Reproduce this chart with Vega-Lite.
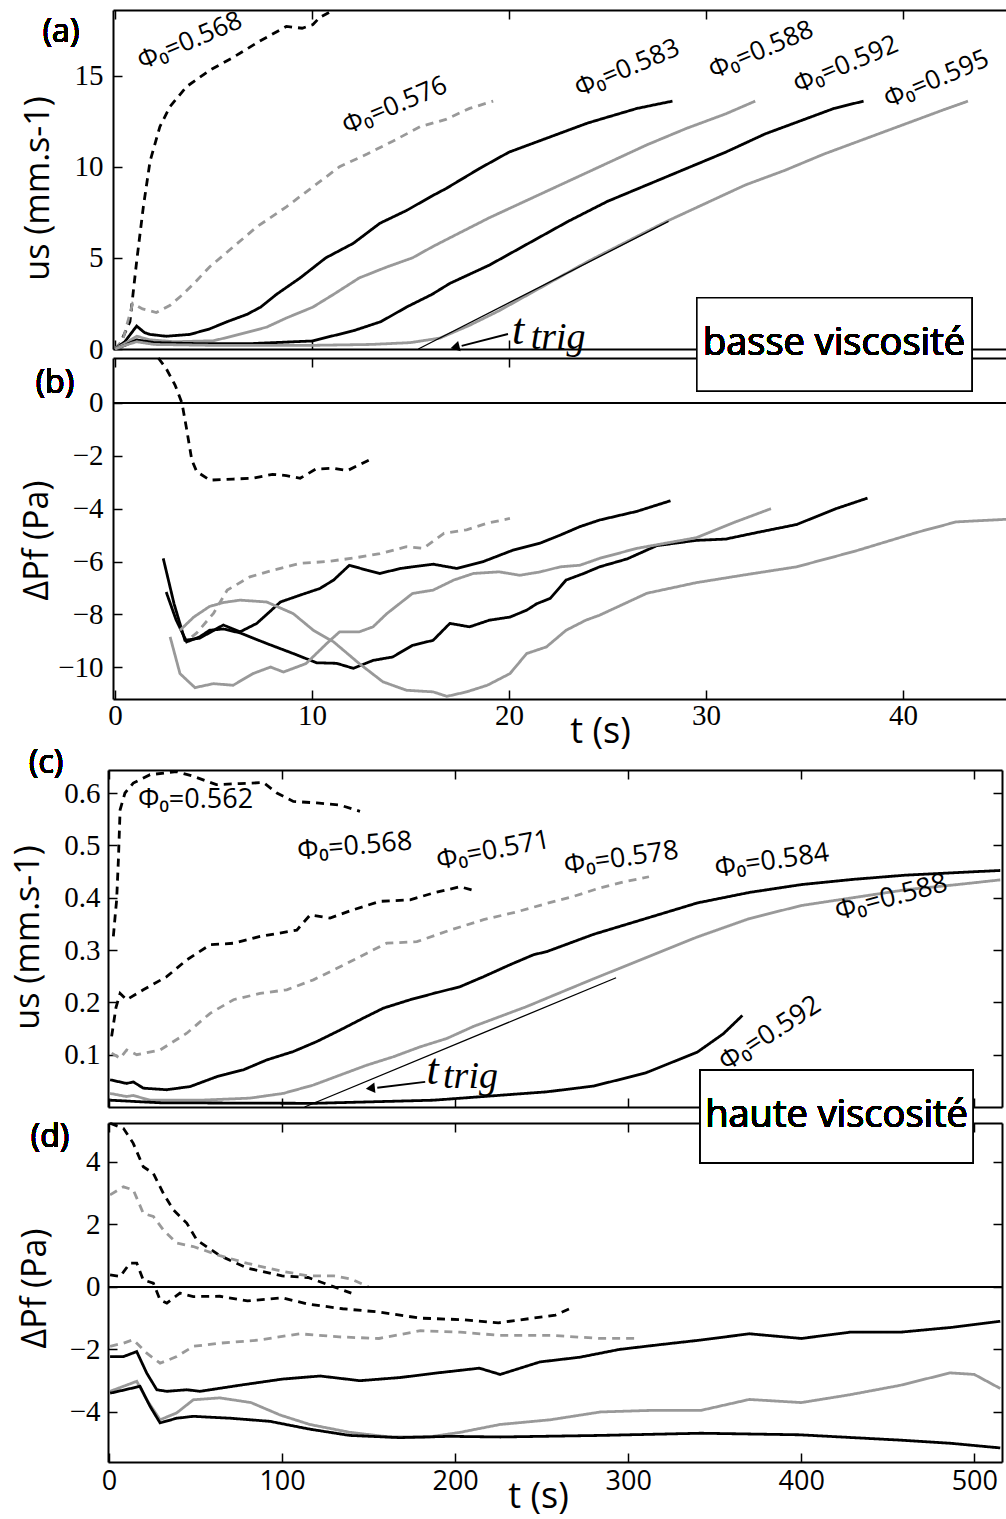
{
"$schema":"https://vega.github.io/schema/vega-lite/v6.json",
"background":"white",
"autosize":"none",
"width":898,"height":1452,
"padding":{"left":108,"top":10,"right":0,"bottom":57},
"config":{
 "view":{"stroke":null},
 "axis":{"grid":false,"domain":true,"domainColor":"black","domainWidth":2,"ticks":true,"tickColor":"black","tickWidth":1.5,"tickSize":-9,"labelColor":"black","labelFont":"Liberation Serif","labelFontSize":29,"labelPadding":17,"labelFlush":false,"labelOverlap":false,"labelBound":false,"titleColor":"black","titleFont":"Open Sans","titleFontSize":34,"titleFontWeight":"normal"},
 "axisX":{"labelPadding":11},
 "text":{"color":"black","font":"Open Sans"},
 "line":{"strokeCap":"butt"}
},
"datasets":{
 "a":[
  {"s":"L568","t":0,"v":0},{"s":"L568","t":0.25,"v":0.27},{"s":"L568","t":0.76,"v":1.5},{"s":"L568","t":1.1,"v":4.8},{"s":"L568","t":1.44,"v":7.8},{"s":"L568","t":1.78,"v":10.3},{"s":"L568","t":2.28,"v":12.2},{"s":"L568","t":2.79,"v":13.3},{"s":"L568","t":3.64,"v":14.4},{"s":"L568","t":4.82,"v":15.3},{"s":"L568","t":6.0,"v":16.0},{"s":"L568","t":7.36,"v":16.9},{"s":"L568","t":8.7,"v":17.7},{"s":"L568","t":9.5,"v":17.6},{"s":"L568","t":10.05,"v":17.8},{"s":"L568","t":10.4,"v":18.2},{"s":"L568","t":11.1,"v":18.6},
  {"s":"L576","t":0,"v":0},{"s":"L576","t":0.4,"v":0.5},{"s":"L576","t":0.9,"v":2.5},{"s":"L576","t":1.4,"v":2.2},{"s":"L576","t":2.1,"v":2.0},{"s":"L576","t":2.8,"v":2.4},{"s":"L576","t":3.45,"v":3.0},{"s":"L576","t":4.1,"v":3.7},{"s":"L576","t":4.8,"v":4.5},{"s":"L576","t":6.0,"v":5.6},{"s":"L576","t":7.2,"v":6.7},{"s":"L576","t":8.7,"v":7.8},{"s":"L576","t":10.05,"v":8.9},{"s":"L576","t":11.4,"v":10.0},{"s":"L576","t":12.8,"v":10.7},{"s":"L576","t":14.1,"v":11.4},{"s":"L576","t":15.5,"v":12.2},{"s":"L576","t":16.8,"v":12.6},{"s":"L576","t":18.0,"v":13.2},{"s":"L576","t":19.2,"v":13.6},
  {"s":"L583","t":0,"v":0},{"s":"L583","t":0.5,"v":0.4},{"s":"L583","t":1.1,"v":1.26},{"s":"L583","t":1.5,"v":0.9},{"s":"L583","t":1.78,"v":0.8},{"s":"L583","t":2.6,"v":0.7},{"s":"L583","t":3.8,"v":0.8},{"s":"L583","t":4.8,"v":1.1},{"s":"L583","t":5.7,"v":1.5},{"s":"L583","t":6.7,"v":1.9},{"s":"L583","t":7.4,"v":2.3},{"s":"L583","t":8.2,"v":3.0},{"s":"L583","t":9.4,"v":3.9},{"s":"L583","t":10.7,"v":5.0},{"s":"L583","t":12.1,"v":5.8},{"s":"L583","t":13.45,"v":6.9},{"s":"L583","t":14.8,"v":7.6},{"s":"L583","t":16.1,"v":8.4},{"s":"L583","t":16.8,"v":8.8},{"s":"L583","t":18.5,"v":9.9},{"s":"L583","t":20,"v":10.8},{"s":"L583","t":22,"v":11.6},{"s":"L583","t":24,"v":12.4},{"s":"L583","t":26.5,"v":13.2},{"s":"L583","t":28.3,"v":13.6},
  {"s":"L588","t":0,"v":0},{"s":"L588","t":0.5,"v":0.3},{"s":"L588","t":1.1,"v":0.7},{"s":"L588","t":1.8,"v":0.5},{"s":"L588","t":3,"v":0.4},{"s":"L588","t":5,"v":0.45},{"s":"L588","t":6.3,"v":0.8},{"s":"L588","t":7.7,"v":1.2},{"s":"L588","t":8.7,"v":1.7},{"s":"L588","t":10.05,"v":2.3},{"s":"L588","t":11.1,"v":3.0},{"s":"L588","t":12.4,"v":3.9},{"s":"L588","t":13.8,"v":4.5},{"s":"L588","t":15.1,"v":5.0},{"s":"L588","t":16.1,"v":5.6},{"s":"L588","t":17.0,"v":6.1},{"s":"L588","t":19,"v":7.2},{"s":"L588","t":21,"v":8.2},{"s":"L588","t":23,"v":9.2},{"s":"L588","t":25,"v":10.2},{"s":"L588","t":27,"v":11.2},{"s":"L588","t":29,"v":12.1},{"s":"L588","t":31,"v":12.9},{"s":"L588","t":32.5,"v":13.6},
  {"s":"L592","t":0,"v":0},{"s":"L592","t":0.5,"v":0.2},{"s":"L592","t":1.1,"v":0.5},{"s":"L592","t":2,"v":0.35},{"s":"L592","t":4,"v":0.3},{"s":"L592","t":7,"v":0.3},{"s":"L592","t":10,"v":0.44},{"s":"L592","t":12.1,"v":1.0},{"s":"L592","t":13.5,"v":1.5},{"s":"L592","t":14.8,"v":2.3},{"s":"L592","t":16.1,"v":3.0},{"s":"L592","t":17,"v":3.6},{"s":"L592","t":19,"v":4.6},{"s":"L592","t":21,"v":5.8},{"s":"L592","t":23,"v":7.0},{"s":"L592","t":25,"v":8.1},{"s":"L592","t":27,"v":9.0},{"s":"L592","t":29,"v":9.9},{"s":"L592","t":31,"v":10.8},{"s":"L592","t":33,"v":11.8},{"s":"L592","t":35,"v":12.6},{"s":"L592","t":36.5,"v":13.2},{"s":"L592","t":38,"v":13.6},
  {"s":"L595","t":0,"v":0},{"s":"L595","t":0.5,"v":0.2},{"s":"L595","t":1.1,"v":0.4},{"s":"L595","t":2,"v":0.25},{"s":"L595","t":5,"v":0.2},{"s":"L595","t":10,"v":0.2},{"s":"L595","t":13,"v":0.25},{"s":"L595","t":15,"v":0.35},{"s":"L595","t":16.5,"v":0.6},{"s":"L595","t":18,"v":1.3},{"s":"L595","t":19.5,"v":2.1},{"s":"L595","t":21,"v":3.0},{"s":"L595","t":22.5,"v":3.9},{"s":"L595","t":24,"v":4.8},{"s":"L595","t":26,"v":5.9},{"s":"L595","t":28,"v":7.0},{"s":"L595","t":30,"v":8.0},{"s":"L595","t":32,"v":9.0},{"s":"L595","t":34,"v":9.8},{"s":"L595","t":36,"v":10.7},{"s":"L595","t":38,"v":11.5},{"s":"L595","t":40,"v":12.3},{"s":"L595","t":42,"v":13.1},{"s":"L595","t":43.3,"v":13.6}
 ],
 "b":[
  {"s":"L568","t":2.2,"v":1.7},{"s":"L568","t":2.6,"v":1.3},{"s":"L568","t":3.05,"v":0.68},{"s":"L568","t":3.4,"v":0},{"s":"L568","t":3.64,"v":-1.0},{"s":"L568","t":3.9,"v":-2.16},{"s":"L568","t":4.15,"v":-2.6},{"s":"L568","t":4.82,"v":-2.92},{"s":"L568","t":6.0,"v":-2.88},{"s":"L568","t":7.0,"v":-2.85},{"s":"L568","t":8.0,"v":-2.7},{"s":"L568","t":8.7,"v":-2.75},{"s":"L568","t":9.4,"v":-2.85},{"s":"L568","t":10.2,"v":-2.5},{"s":"L568","t":11.1,"v":-2.47},{"s":"L568","t":11.8,"v":-2.56},{"s":"L568","t":12.9,"v":-2.16},
  {"s":"L576","t":3.9,"v":-8.85},{"s":"L576","t":4.15,"v":-8.7},{"s":"L576","t":5.0,"v":-7.96},{"s":"L576","t":5.7,"v":-7.08},{"s":"L576","t":6.85,"v":-6.58},{"s":"L576","t":8.0,"v":-6.33},{"s":"L576","t":9.4,"v":-6.07},{"s":"L576","t":10.75,"v":-6.0},{"s":"L576","t":12.1,"v":-5.87},{"s":"L576","t":13.45,"v":-5.7},{"s":"L576","t":14.8,"v":-5.44},{"s":"L576","t":15.65,"v":-5.5},{"s":"L576","t":16.7,"v":-4.93},{"s":"L576","t":17.85,"v":-4.8},{"s":"L576","t":18.9,"v":-4.55},{"s":"L576","t":20.05,"v":-4.37},
  {"s":"L583","t":2.45,"v":-5.88},{"s":"L583","t":3.0,"v":-7.6},{"s":"L583","t":3.55,"v":-8.98},{"s":"L583","t":4.3,"v":-8.9},{"s":"L583","t":5.5,"v":-8.4},{"s":"L583","t":6.35,"v":-8.66},{"s":"L583","t":7.2,"v":-8.34},{"s":"L583","t":8.4,"v":-7.53},{"s":"L583","t":9.4,"v":-7.27},{"s":"L583","t":10.4,"v":-7.02},{"s":"L583","t":11.1,"v":-6.7},{"s":"L583","t":11.9,"v":-6.14},{"s":"L583","t":12.8,"v":-6.33},{"s":"L583","t":13.45,"v":-6.45},{"s":"L583","t":14.5,"v":-6.26},{"s":"L583","t":16.15,"v":-6.1},{"s":"L583","t":17.35,"v":-6.26},{"s":"L583","t":18.7,"v":-6.0},{"s":"L583","t":20.2,"v":-5.57},{"s":"L583","t":21.6,"v":-5.3},{"s":"L583","t":22.6,"v":-5.0},{"s":"L583","t":23.6,"v":-4.68},{"s":"L583","t":24.6,"v":-4.43},{"s":"L583","t":26.5,"v":-4.1},{"s":"L583","t":28.2,"v":-3.7},
  {"s":"L592","t":2.6,"v":-7.15},{"s":"L592","t":3.1,"v":-8.2},{"s":"L592","t":3.64,"v":-9.04},{"s":"L592","t":4.3,"v":-8.85},{"s":"L592","t":4.8,"v":-8.6},{"s":"L592","t":5.5,"v":-8.55},{"s":"L592","t":6.35,"v":-8.7},{"s":"L592","t":7.7,"v":-9.1},{"s":"L592","t":9.05,"v":-9.48},{"s":"L592","t":10.24,"v":-9.83},{"s":"L592","t":11.25,"v":-9.85},{"s":"L592","t":12.1,"v":-10.04},{"s":"L592","t":13.1,"v":-9.74},{"s":"L592","t":14.1,"v":-9.61},{"s":"L592","t":15.1,"v":-9.17},{"s":"L592","t":16.15,"v":-8.98},{"s":"L592","t":17.0,"v":-8.34},{"s":"L592","t":18.0,"v":-8.47},{"s":"L592","t":19.0,"v":-8.22},{"s":"L592","t":20.05,"v":-8.1},{"s":"L592","t":20.9,"v":-7.84},{"s":"L592","t":21.4,"v":-7.6},{"s":"L592","t":22.1,"v":-7.39},{"s":"L592","t":22.9,"v":-6.7},{"s":"L592","t":23.8,"v":-6.45},{"s":"L592","t":24.6,"v":-6.2},{"s":"L592","t":26,"v":-5.9},{"s":"L592","t":27.5,"v":-5.4},{"s":"L592","t":29.5,"v":-5.2},{"s":"L592","t":31,"v":-5.15},{"s":"L592","t":32.6,"v":-4.9},{"s":"L592","t":34.6,"v":-4.6},{"s":"L592","t":36.6,"v":-4.0},{"s":"L592","t":38.2,"v":-3.6},
  {"s":"L588","t":2.8,"v":-8.85},{"s":"L588","t":3.3,"v":-10.24},{"s":"L588","t":4.06,"v":-10.77},{"s":"L588","t":5.0,"v":-10.62},{"s":"L588","t":6.0,"v":-10.68},{"s":"L588","t":7.0,"v":-10.24},{"s":"L588","t":7.9,"v":-9.99},{"s":"L588","t":8.55,"v":-10.18},{"s":"L588","t":9.7,"v":-9.86},{"s":"L588","t":10.75,"v":-9.1},{"s":"L588","t":11.4,"v":-8.66},{"s":"L588","t":12.4,"v":-8.66},{"s":"L588","t":13.1,"v":-8.47},{"s":"L588","t":13.8,"v":-7.97},{"s":"L588","t":15.1,"v":-7.21},{"s":"L588","t":16.15,"v":-7.08},{"s":"L588","t":17.2,"v":-6.7},{"s":"L588","t":18.2,"v":-6.45},{"s":"L588","t":19.5,"v":-6.39},{"s":"L588","t":20.55,"v":-6.52},{"s":"L588","t":21.6,"v":-6.39},{"s":"L588","t":22.6,"v":-6.2},{"s":"L588","t":23.6,"v":-6.14},{"s":"L588","t":24.6,"v":-5.88},{"s":"L588","t":26.5,"v":-5.5},{"s":"L588","t":29.5,"v":-5.1},{"s":"L588","t":31.5,"v":-4.5},{"s":"L588","t":33.3,"v":-4.0},
  {"s":"L595","t":3.3,"v":-8.6},{"s":"L595","t":4.0,"v":-8.1},{"s":"L595","t":4.8,"v":-7.7},{"s":"L595","t":5.5,"v":-7.55},{"s":"L595","t":6.35,"v":-7.46},{"s":"L595","t":7.7,"v":-7.53},{"s":"L595","t":9.05,"v":-7.97},{"s":"L595","t":10.07,"v":-8.6},{"s":"L595","t":11.1,"v":-9.04},{"s":"L595","t":12.4,"v":-9.86},{"s":"L595","t":13.6,"v":-10.55},{"s":"L595","t":14.8,"v":-10.87},{"s":"L595","t":16.15,"v":-10.93},{"s":"L595","t":16.85,"v":-11.1},{"s":"L595","t":17.85,"v":-10.93},{"s":"L595","t":18.9,"v":-10.68},{"s":"L595","t":20.05,"v":-10.24},{"s":"L595","t":20.9,"v":-9.48},{"s":"L595","t":21.9,"v":-9.23},{"s":"L595","t":22.9,"v":-8.6},{"s":"L595","t":23.9,"v":-8.22},{"s":"L595","t":24.6,"v":-8.03},{"s":"L595","t":27,"v":-7.2},{"s":"L595","t":29.5,"v":-6.8},{"s":"L595","t":32,"v":-6.5},{"s":"L595","t":34.6,"v":-6.2},{"s":"L595","t":37.6,"v":-5.6},{"s":"L595","t":40.7,"v":-4.9},{"s":"L595","t":42.7,"v":-4.5},{"s":"L595","t":45.3,"v":-4.4}
 ],
 "c":[
  {"s":"H562","t":2.5,"v":0.326},{"s":"H562","t":3.5,"v":0.364},{"s":"H562","t":4.4,"v":0.396},{"s":"H562","t":5.4,"v":0.472},{"s":"H562","t":6.4,"v":0.568},{"s":"H562","t":9.2,"v":0.6},{"s":"H562","t":14,"v":0.619},{"s":"H562","t":23.7,"v":0.635},{"s":"H562","t":39,"v":0.641},{"s":"H562","t":48.7,"v":0.632},{"s":"H562","t":62,"v":0.616},{"s":"H562","t":75.7,"v":0.618},{"s":"H562","t":89.2,"v":0.62},{"s":"H562","t":97,"v":0.6},{"s":"H562","t":106.5,"v":0.584},{"s":"H562","t":120,"v":0.581},{"s":"H562","t":133.5,"v":0.577},{"s":"H562","t":145,"v":0.565},
  {"s":"H571","t":1.5,"v":0.135},{"s":"H571","t":4,"v":0.19},{"s":"H571","t":6.4,"v":0.217},{"s":"H571","t":10.2,"v":0.205},{"s":"H571","t":19.8,"v":0.224},{"s":"H571","t":33.3,"v":0.249},{"s":"H571","t":44.9,"v":0.281},{"s":"H571","t":58.4,"v":0.31},{"s":"H571","t":71.9,"v":0.313},{"s":"H571","t":87.3,"v":0.326},{"s":"H571","t":108.5,"v":0.338},{"s":"H571","t":116.2,"v":0.367},{"s":"H571","t":127.7,"v":0.361},{"s":"H571","t":141.2,"v":0.377},{"s":"H571","t":156.6,"v":0.393},{"s":"H571","t":174,"v":0.396},{"s":"H571","t":187.5,"v":0.409},{"s":"H571","t":202.9,"v":0.421},{"s":"H571","t":212.5,"v":0.412},
  {"s":"H578","t":1.5,"v":0.103},{"s":"H578","t":6.4,"v":0.093},{"s":"H578","t":10.2,"v":0.109},{"s":"H578","t":16,"v":0.1},{"s":"H578","t":29.5,"v":0.109},{"s":"H578","t":44.9,"v":0.141},{"s":"H578","t":58.4,"v":0.179},{"s":"H578","t":71.9,"v":0.205},{"s":"H578","t":87.3,"v":0.217},{"s":"H578","t":102.7,"v":0.224},{"s":"H578","t":118.1,"v":0.243},{"s":"H578","t":133.5,"v":0.268},{"s":"H578","t":149,"v":0.294},{"s":"H578","t":160.5,"v":0.313},{"s":"H578","t":177.9,"v":0.316},{"s":"H578","t":197.1,"v":0.338},{"s":"H578","t":216.4,"v":0.358},{"s":"H578","t":235.7,"v":0.373},{"s":"H578","t":253,"v":0.389},{"s":"H578","t":268,"v":0.402},{"s":"H578","t":283,"v":0.418},{"s":"H578","t":297,"v":0.43},{"s":"H578","t":312,"v":0.44},
  {"s":"H584","t":0.6,"v":0.052},{"s":"H584","t":10.2,"v":0.045},{"s":"H584","t":14,"v":0.048},{"s":"H584","t":19.8,"v":0.036},{"s":"H584","t":33.3,"v":0.033},{"s":"H584","t":46.8,"v":0.039},{"s":"H584","t":62.3,"v":0.058},{"s":"H584","t":77.6,"v":0.071},{"s":"H584","t":91.2,"v":0.09},{"s":"H584","t":106.5,"v":0.106},{"s":"H584","t":120,"v":0.125},{"s":"H584","t":133.5,"v":0.147},{"s":"H584","t":147,"v":0.17},{"s":"H584","t":158.6,"v":0.189},{"s":"H584","t":174,"v":0.205},{"s":"H584","t":187.5,"v":0.217},{"s":"H584","t":202.9,"v":0.23},{"s":"H584","t":216.4,"v":0.249},{"s":"H584","t":231.8,"v":0.272},{"s":"H584","t":245.3,"v":0.291},{"s":"H584","t":253,"v":0.297},{"s":"H584","t":280,"v":0.33},{"s":"H584","t":310,"v":0.36},{"s":"H584","t":340,"v":0.39},{"s":"H584","t":370,"v":0.41},{"s":"H584","t":400,"v":0.425},{"s":"H584","t":430,"v":0.435},{"s":"H584","t":460,"v":0.443},{"s":"H584","t":490,"v":0.448},{"s":"H584","t":515,"v":0.452},
  {"s":"H588","t":0.6,"v":0.026},{"s":"H588","t":10,"v":0.02},{"s":"H588","t":14,"v":0.022},{"s":"H588","t":23.7,"v":0.013},{"s":"H588","t":52.6,"v":0.013},{"s":"H588","t":81.5,"v":0.017},{"s":"H588","t":100.7,"v":0.026},{"s":"H588","t":118.1,"v":0.042},{"s":"H588","t":133.5,"v":0.061},{"s":"H588","t":149,"v":0.08},{"s":"H588","t":164.3,"v":0.096},{"s":"H588","t":179.8,"v":0.115},{"s":"H588","t":195.2,"v":0.131},{"s":"H588","t":210.6,"v":0.154},{"s":"H588","t":226,"v":0.173},{"s":"H588","t":241.4,"v":0.192},{"s":"H588","t":253,"v":0.208},{"s":"H588","t":280,"v":0.245},{"s":"H588","t":310,"v":0.285},{"s":"H588","t":340,"v":0.325},{"s":"H588","t":370,"v":0.36},{"s":"H588","t":400,"v":0.385},{"s":"H588","t":430,"v":0.4},{"s":"H588","t":460,"v":0.415},{"s":"H588","t":490,"v":0.425},{"s":"H588","t":515,"v":0.434},
  {"s":"H592","t":0.6,"v":0.013},{"s":"H592","t":30,"v":0.008},{"s":"H592","t":118,"v":0.007},{"s":"H592","t":187.5,"v":0.013},{"s":"H592","t":253,"v":0.029},{"s":"H592","t":280,"v":0.04},{"s":"H592","t":310,"v":0.065},{"s":"H592","t":340,"v":0.105},{"s":"H592","t":355,"v":0.14},{"s":"H592","t":366,"v":0.175}
 ],
 "d":[
  {"s":"H562","t":0.6,"v":5.23},{"s":"H562","t":8.3,"v":5.07},{"s":"H562","t":14,"v":4.59},{"s":"H562","t":19.8,"v":3.84},{"s":"H562","t":25.6,"v":3.63},{"s":"H562","t":31.4,"v":2.99},{"s":"H562","t":37.2,"v":2.46},{"s":"H562","t":44.9,"v":2.04},{"s":"H562","t":50.7,"v":1.5},{"s":"H562","t":64,"v":1.0},{"s":"H562","t":80,"v":0.6},{"s":"H562","t":100,"v":0.35},{"s":"H562","t":115,"v":0.3},{"s":"H562","t":130,"v":0.0},{"s":"H562","t":140,"v":-0.2},
  {"s":"H568","t":0.6,"v":2.94},{"s":"H568","t":8.3,"v":3.2},{"s":"H568","t":14,"v":3.1},{"s":"H568","t":19.8,"v":2.35},{"s":"H568","t":25.6,"v":2.25},{"s":"H568","t":31.4,"v":1.82},{"s":"H568","t":39.1,"v":1.4},{"s":"H568","t":48.7,"v":1.29},{"s":"H568","t":64,"v":1.0},{"s":"H568","t":80,"v":0.75},{"s":"H568","t":100,"v":0.5},{"s":"H568","t":115,"v":0.35},{"s":"H568","t":130,"v":0.35},{"s":"H568","t":140,"v":0.25},{"s":"H568","t":150,"v":0.0},
  {"s":"H571","t":0.6,"v":0.38},{"s":"H571","t":6.4,"v":0.33},{"s":"H571","t":12.1,"v":0.76},{"s":"H571","t":16,"v":0.76},{"s":"H571","t":19.8,"v":0.22},{"s":"H571","t":25.6,"v":0.12},{"s":"H571","t":29.5,"v":-0.42},{"s":"H571","t":33.4,"v":-0.52},{"s":"H571","t":41,"v":-0.2},{"s":"H571","t":48.7,"v":-0.31},{"s":"H571","t":64,"v":-0.3},{"s":"H571","t":80,"v":-0.45},{"s":"H571","t":100,"v":-0.35},{"s":"H571","t":115,"v":-0.55},{"s":"H571","t":135,"v":-0.7},{"s":"H571","t":155,"v":-0.8},{"s":"H571","t":180,"v":-1.0},{"s":"H571","t":205,"v":-1.05},{"s":"H571","t":225,"v":-1.15},{"s":"H571","t":245,"v":-1.0},{"s":"H571","t":258,"v":-0.9},{"s":"H571","t":266,"v":-0.7},
  {"s":"H578","t":0.6,"v":-1.9},{"s":"H578","t":8.3,"v":-1.8},{"s":"H578","t":14,"v":-1.69},{"s":"H578","t":21.8,"v":-2.12},{"s":"H578","t":29.5,"v":-2.44},{"s":"H578","t":39.1,"v":-2.23},{"s":"H578","t":48.7,"v":-1.9},{"s":"H578","t":64,"v":-1.8},{"s":"H578","t":87,"v":-1.7},{"s":"H578","t":110,"v":-1.5},{"s":"H578","t":133,"v":-1.6},{"s":"H578","t":156,"v":-1.65},{"s":"H578","t":180,"v":-1.4},{"s":"H578","t":203,"v":-1.45},{"s":"H578","t":226,"v":-1.55},{"s":"H578","t":255,"v":-1.55},{"s":"H578","t":284,"v":-1.65},{"s":"H578","t":305,"v":-1.65},
  {"s":"H584","t":0.6,"v":-2.23},{"s":"H584","t":8.3,"v":-2.23},{"s":"H584","t":16,"v":-2.07},{"s":"H584","t":21.8,"v":-2.76},{"s":"H584","t":27.6,"v":-3.29},{"s":"H584","t":33.4,"v":-3.34},{"s":"H584","t":44.9,"v":-3.29},{"s":"H584","t":52.6,"v":-3.34},{"s":"H584","t":75,"v":-3.15},{"s":"H584","t":100,"v":-2.95},{"s":"H584","t":122,"v":-2.85},{"s":"H584","t":145,"v":-3.0},{"s":"H584","t":168,"v":-2.9},{"s":"H584","t":190,"v":-2.75},{"s":"H584","t":214,"v":-2.6},{"s":"H584","t":226,"v":-2.8},{"s":"H584","t":249,"v":-2.4},{"s":"H584","t":272,"v":-2.25},{"s":"H584","t":295,"v":-2.0},{"s":"H584","t":318,"v":-1.85},{"s":"H584","t":342,"v":-1.7},{"s":"H584","t":370,"v":-1.5},{"s":"H584","t":400,"v":-1.65},{"s":"H584","t":428,"v":-1.45},{"s":"H584","t":457,"v":-1.45},{"s":"H584","t":486,"v":-1.3},{"s":"H584","t":515,"v":-1.1},
  {"s":"H588","t":0.6,"v":-3.34},{"s":"H588","t":16,"v":-3.02},{"s":"H588","t":21.8,"v":-3.61},{"s":"H588","t":29.5,"v":-4.25},{"s":"H588","t":39.1,"v":-4.03},{"s":"H588","t":48.7,"v":-3.61},{"s":"H588","t":64,"v":-3.55},{"s":"H588","t":82,"v":-3.7},{"s":"H588","t":99,"v":-4.1},{"s":"H588","t":116,"v":-4.4},{"s":"H588","t":139,"v":-4.65},{"s":"H588","t":162,"v":-4.8},{"s":"H588","t":185,"v":-4.8},{"s":"H588","t":203,"v":-4.65},{"s":"H588","t":226,"v":-4.4},{"s":"H588","t":255,"v":-4.25},{"s":"H588","t":284,"v":-4.0},{"s":"H588","t":313,"v":-3.95},{"s":"H588","t":342,"v":-3.95},{"s":"H588","t":370,"v":-3.6},{"s":"H588","t":400,"v":-3.7},{"s":"H588","t":428,"v":-3.45},{"s":"H588","t":457,"v":-3.15},{"s":"H588","t":486,"v":-2.75},{"s":"H588","t":500,"v":-2.8},{"s":"H588","t":515,"v":-3.25},
  {"s":"H592","t":0.6,"v":-3.4},{"s":"H592","t":17.9,"v":-3.18},{"s":"H592","t":23.7,"v":-3.82},{"s":"H592","t":29.5,"v":-4.35},{"s":"H592","t":39.1,"v":-4.2},{"s":"H592","t":48.7,"v":-4.14},{"s":"H592","t":70,"v":-4.2},{"s":"H592","t":93,"v":-4.3},{"s":"H592","t":116,"v":-4.55},{"s":"H592","t":139,"v":-4.75},{"s":"H592","t":168,"v":-4.82},{"s":"H592","t":197,"v":-4.78},{"s":"H592","t":226,"v":-4.8},{"s":"H592","t":284,"v":-4.75},{"s":"H592","t":342,"v":-4.68},{"s":"H592","t":399,"v":-4.73},{"s":"H592","t":457,"v":-4.9},{"s":"H592","t":486,"v":-5.0},{"s":"H592","t":515,"v":-5.15}
 ]
},
"resolve":{"scale":{"x":"independent","y":"independent"},"axis":{"x":"independent","y":"independent"}},
"layer":[
 {"data":{"name":"a"},
  "resolve":{"axis":{"x":"independent","y":"independent"}},
  "layer":[
   {"mark":{"type":"line","strokeWidth":2.8},
    "encoding":{
     "x":{"field":"t","type":"quantitative","scale":{"domain":[-0.1,45.5],"range":[5,903.3],"nice":false,"zero":false},"axis":{"orient":"bottom","offset":-1113,"values":[0,10,20,30,40],"labels":false,"title":null}},
     "y":{"field":"v","type":"quantitative","scale":{"domain":[0,18.6],"range":[339,0],"nice":false,"zero":false},"axis":{"orient":"left","offset":-5,"labelPadding":19,"values":[0,5,10,15],"title":"us (mm.s-1)","titleX":-75,"titleY":178,"titleBaseline":"middle","titleAlign":"center","titleAngle":-90}},
     "color":{"field":"s","type":"nominal","legend":null,"scale":{"domain":["L568","L576","L583","L588","L592","L595","H562","H568","H571","H578","H584","H588","H592"],"range":["#000000","#999999","#000000","#999999","#000000","#999999","#000000","#999999","#000000","#999999","#000000","#999999","#000000"]}},
     "strokeDash":{"field":"s","type":"nominal","legend":null,"scale":{"domain":["L568","L576","L583","L588","L592","L595","H562","H568","H571","H578","H584","H588","H592"],"range":[[8,6],[8,6],[1,0],[1,0],[1,0],[1,0],[8,6],[8,6],[8,6],[8,6],[1,0],[1,0],[1,0]]}}
    }},
   {"mark":{"type":"point","opacity":0},
    "encoding":{
     "x":{"field":"t","type":"quantitative","axis":{"orient":"top","offset":0,"values":[0,10,20,30,40],"labels":false,"title":null}},
     "y":{"field":"v","type":"quantitative","axis":null}
    }},
   {"data":{"values":[{"t":15.4,"v":0},{"t":28.1,"v":7.0}]},
    "mark":{"type":"line","color":"black","strokeWidth":1.3},
    "encoding":{"x":{"field":"t","type":"quantitative","axis":null},"y":{"field":"v","type":"quantitative","axis":null}}},
   {"data":{"values":[{"t":19.95,"v":0.82},{"t":17.6,"v":0.17}]},
    "mark":{"type":"line","color":"black","strokeWidth":2},
    "encoding":{"x":{"field":"t","type":"quantitative","axis":null},"y":{"field":"v","type":"quantitative","axis":null}}},
   {"data":{"values":[{"t":17.26,"v":0.1}]},
    "mark":{"type":"point","shape":"triangle-up","filled":true,"color":"black","opacity":1,"size":110,"angle":256},
    "encoding":{"x":{"field":"t","type":"quantitative","axis":null},"y":{"field":"v","type":"quantitative","axis":null}}},
   {"data":{"values":[{"label":"t","t":20.15,"v":0.27}]},
    "mark":{"type":"text","font":"Liberation Serif","fontStyle":"italic","fontSize":44,"align":"left","baseline":"alphabetic"},
    "encoding":{"x":{"field":"t","type":"quantitative","axis":null},"y":{"field":"v","type":"quantitative","axis":null},"text":{"field":"label"}}},
   {"data":{"values":[{"label":"trig","t":21.1,"v":0.0}]},
    "mark":{"type":"text","font":"Liberation Serif","fontStyle":"italic","fontSize":38,"align":"left","baseline":"alphabetic"},
    "encoding":{"x":{"field":"t","type":"quantitative","axis":null},"y":{"field":"v","type":"quantitative","axis":null},"text":{"field":"label"}}},
   {"data":{"values":[{"label":"Φ₀=0.568","t":3.8,"v":16.9},{"label":"Φ₀=0.576","t":14.2,"v":13.35},{"label":"Φ₀=0.583","t":26.0,"v":15.4},{"label":"Φ₀=0.588","t":32.8,"v":16.4},{"label":"Φ₀=0.592","t":37.1,"v":15.6},{"label":"Φ₀=0.595","t":41.7,"v":14.8}]},
    "mark":{"type":"text","fontSize":26,"angle":-23,"align":"center","baseline":"middle"},
    "encoding":{"x":{"field":"t","type":"quantitative","axis":null},"y":{"field":"v","type":"quantitative","axis":null},"text":{"field":"label"}}},
   {"mark":{"type":"text","fontSize":32,"align":"center","baseline":"middle"},
    "encoding":{"x":{"datum":-2.74,"axis":null},"y":{"datum":17.4,"axis":null},"text":{"value":"(a)"}}}
  ]},
 {"data":{"name":"b"},
  "resolve":{"axis":{"x":"independent","y":"independent"}},
  "layer":[
   {"mark":{"type":"line","strokeWidth":2.8},
    "encoding":{
     "x":{"field":"t","type":"quantitative","scale":{"domain":[-0.1,45.5],"range":[5,903.3],"nice":false,"zero":false},"axis":{"orient":"bottom","offset":-763,"values":[0,10,20,30,40],"title":"t (s)","titleX":492,"titleY":43,"titleBaseline":"alphabetic","titleAlign":"center","titleFontSize":36}},
     "y":{"field":"v","type":"quantitative","scale":{"domain":[-11.2,1.7],"range":[689,348],"nice":false,"zero":false},"axis":{"orient":"left","offset":-5,"labelPadding":19,"values":[-10,-8,-6,-4,-2,0],"title":"ΔPf (Pa)","titleX":-76,"titleY":530,"titleBaseline":"middle","titleAlign":"center","titleAngle":-90}},
     "color":{"field":"s","type":"nominal","legend":null,"scale":{"domain":["L568","L576","L583","L588","L592","L595","H562","H568","H571","H578","H584","H588","H592"],"range":["#000000","#999999","#000000","#999999","#000000","#999999","#000000","#999999","#000000","#999999","#000000","#999999","#000000"]}},
     "strokeDash":{"field":"s","type":"nominal","legend":null,"scale":{"domain":["L568","L576","L583","L588","L592","L595","H562","H568","H571","H578","H584","H588","H592"],"range":[[8,6],[8,6],[1,0],[1,0],[1,0],[1,0],[8,6],[8,6],[8,6],[8,6],[1,0],[1,0],[1,0]]}}
    }},
   {"mark":{"type":"point","opacity":0},
    "encoding":{
     "x":{"field":"t","type":"quantitative","axis":{"orient":"top","offset":-348,"values":[0,10,20,30,40],"labels":false,"title":null}},
     "y":{"field":"v","type":"quantitative","axis":null}
    }},
   {"mark":{"type":"rule","color":"black","strokeWidth":1.5},
    "encoding":{"x":{"datum":-0.1,"axis":null},"x2":{"datum":45.5},"y":{"datum":0,"axis":null}}},
   {"mark":{"type":"text","fontSize":32,"align":"center","baseline":"middle"},
    "encoding":{"x":{"datum":-3.05,"axis":null},"y":{"datum":0.76,"axis":null},"text":{"value":"(b)"}}},
   {"mark":{"type":"rect","fill":"white","stroke":"black","strokeWidth":1.5},
    "encoding":{"x":{"datum":29.54,"axis":null},"x2":{"datum":43.5},"y":{"datum":0.45,"axis":null},"y2":{"datum":3.98}}},
   {"mark":{"type":"text","fontSize":38,"align":"center","baseline":"alphabetic"},
    "encoding":{"x":{"datum":36.5,"axis":null},"y":{"datum":1.82,"axis":null},"text":{"value":"basse viscosité"}}}
  ]},
 {"data":{"name":"c"},
  "resolve":{"axis":{"x":"independent","y":"independent"}},
  "layer":[
   {"mark":{"type":"line","strokeWidth":2.8},
    "encoding":{
     "x":{"field":"t","type":"quantitative","scale":{"domain":[-0.6,516],"range":[0,894],"nice":false,"zero":false},"axis":{"orient":"bottom","offset":-355,"values":[0,100,200,300,400,500],"labels":false,"title":null}},
     "y":{"field":"v","type":"quantitative","scale":{"domain":[0,0.644],"range":[1097,760],"nice":false,"zero":false},"axis":{"orient":"left","offset":0,"values":[0.1,0.2,0.3,0.4,0.5,0.6],"format":".1f","title":"us (mm.s-1)","titleX":-80,"titleY":927,"titleBaseline":"middle","titleAlign":"center","titleAngle":-90}},
     "color":{"field":"s","type":"nominal","legend":null,"scale":{"domain":["L568","L576","L583","L588","L592","L595","H562","H568","H571","H578","H584","H588","H592"],"range":["#000000","#999999","#000000","#999999","#000000","#999999","#000000","#999999","#000000","#999999","#000000","#999999","#000000"]}},
     "strokeDash":{"field":"s","type":"nominal","legend":null,"scale":{"domain":["L568","L576","L583","L588","L592","L595","H562","H568","H571","H578","H584","H588","H592"],"range":[[8,6],[8,6],[1,0],[1,0],[1,0],[1,0],[8,6],[8,6],[8,6],[8,6],[1,0],[1,0],[1,0]]}}
    }},
   {"mark":{"type":"point","opacity":0},
    "encoding":{
     "x":{"field":"t","type":"quantitative","axis":{"orient":"top","offset":-760,"values":[0,100,200,300,400,500],"labels":false,"title":null}},
     "y":{"field":"v","type":"quantitative","axis":{"orient":"right","offset":-4,"values":[0.1,0.2,0.3,0.4,0.5,0.6],"labels":false,"title":null}}
    }},
   {"data":{"values":[{"t":113,"v":0},{"t":293,"v":0.247}]},
    "mark":{"type":"line","color":"black","strokeWidth":1.3},
    "encoding":{"x":{"field":"t","type":"quantitative","axis":null},"y":{"field":"v","type":"quantitative","axis":null}}},
   {"data":{"values":[{"t":182.7,"v":0.048},{"t":155,"v":0.037}]},
    "mark":{"type":"line","color":"black","strokeWidth":2},
    "encoding":{"x":{"field":"t","type":"quantitative","axis":null},"y":{"field":"v","type":"quantitative","axis":null}}},
   {"data":{"values":[{"t":151,"v":0.036}]},
    "mark":{"type":"point","shape":"triangle-up","filled":true,"color":"black","opacity":1,"size":110,"angle":264},
    "encoding":{"x":{"field":"t","type":"quantitative","axis":null},"y":{"field":"v","type":"quantitative","axis":null}}},
   {"data":{"values":[{"label":"t","t":183.5,"v":0.044}]},
    "mark":{"type":"text","font":"Liberation Serif","fontStyle":"italic","fontSize":44,"align":"left","baseline":"alphabetic"},
    "encoding":{"x":{"field":"t","type":"quantitative","axis":null},"y":{"field":"v","type":"quantitative","axis":null},"text":{"field":"label"}}},
   {"data":{"values":[{"label":"trig","t":193,"v":0.037}]},
    "mark":{"type":"text","font":"Liberation Serif","fontStyle":"italic","fontSize":38,"align":"left","baseline":"alphabetic"},
    "encoding":{"x":{"field":"t","type":"quantitative","axis":null},"y":{"field":"v","type":"quantitative","axis":null},"text":{"field":"label"}}},
   {"data":{"values":[{"label":"Φ₀=0.562","t":50,"v":0.587}]},
    "mark":{"type":"text","fontSize":27,"angle":0,"align":"center","baseline":"middle"},
    "encoding":{"x":{"field":"t","type":"quantitative","axis":null},"y":{"field":"v","type":"quantitative","axis":null},"text":{"field":"label"}}},
   {"data":{"values":[{"label":"Φ₀=0.568","t":142,"v":0.498}]},
    "mark":{"type":"text","fontSize":27,"angle":-5,"align":"center","baseline":"middle"},
    "encoding":{"x":{"field":"t","type":"quantitative","axis":null},"y":{"field":"v","type":"quantitative","axis":null},"text":{"field":"label"}}},
   {"data":{"values":[{"label":"Φ₀=0.571","t":222,"v":0.49}]},
    "mark":{"type":"text","fontSize":27,"angle":-11,"align":"center","baseline":"middle"},
    "encoding":{"x":{"field":"t","type":"quantitative","axis":null},"y":{"field":"v","type":"quantitative","axis":null},"text":{"field":"label"}}},
   {"data":{"values":[{"label":"Φ₀=0.578","t":296,"v":0.475},{"label":"Φ₀=0.584","t":383,"v":0.47}]},
    "mark":{"type":"text","fontSize":27,"angle":-8,"align":"center","baseline":"middle"},
    "encoding":{"x":{"field":"t","type":"quantitative","axis":null},"y":{"field":"v","type":"quantitative","axis":null},"text":{"field":"label"}}},
   {"data":{"values":[{"label":"Φ₀=0.588","t":452,"v":0.4}]},
    "mark":{"type":"text","fontSize":27,"angle":-15,"align":"center","baseline":"middle"},
    "encoding":{"x":{"field":"t","type":"quantitative","axis":null},"y":{"field":"v","type":"quantitative","axis":null},"text":{"field":"label"}}},
   {"data":{"values":[{"label":"Φ₀=0.592","t":382,"v":0.14}]},
    "mark":{"type":"text","fontSize":27,"angle":-33,"align":"center","baseline":"middle"},
    "encoding":{"x":{"field":"t","type":"quantitative","axis":null},"y":{"field":"v","type":"quantitative","axis":null},"text":{"field":"label"}}},
   {"mark":{"type":"text","fontSize":32,"align":"center","baseline":"middle"},
    "encoding":{"x":{"datum":-36.4,"axis":null},"y":{"datum":0.658,"axis":null},"text":{"value":"(c)"}}}
  ]},
 {"data":{"name":"d"},
  "resolve":{"axis":{"x":"independent","y":"independent"}},
  "layer":[
   {"mark":{"type":"line","strokeWidth":2.8},
    "encoding":{
     "x":{"field":"t","type":"quantitative","scale":{"domain":[-0.6,516],"range":[0,894],"nice":false,"zero":false},"axis":{"orient":"bottom","offset":0,"values":[0,100,200,300,400,500],"labelFont":"Open Sans","labelFontSize":27,"labelPadding":15,"title":"t (s)","titleX":430,"titleY":45,"titleBaseline":"alphabetic","titleAlign":"center","titleFontSize":36}},
     "y":{"field":"v","type":"quantitative","scale":{"domain":[-5.6,5.24],"range":[1452,1113],"nice":false,"zero":false},"axis":{"orient":"left","offset":0,"values":[-4,-2,0,2,4],"title":"ΔPf (Pa)","titleX":-73,"titleY":1278,"titleBaseline":"middle","titleAlign":"center","titleAngle":-90}},
     "color":{"field":"s","type":"nominal","legend":null,"scale":{"domain":["L568","L576","L583","L588","L592","L595","H562","H568","H571","H578","H584","H588","H592"],"range":["#000000","#999999","#000000","#999999","#000000","#999999","#000000","#999999","#000000","#999999","#000000","#999999","#000000"]}},
     "strokeDash":{"field":"s","type":"nominal","legend":null,"scale":{"domain":["L568","L576","L583","L588","L592","L595","H562","H568","H571","H578","H584","H588","H592"],"range":[[8,6],[8,6],[1,0],[1,0],[1,0],[1,0],[8,6],[8,6],[8,6],[8,6],[1,0],[1,0],[1,0]]}}
    }},
   {"mark":{"type":"point","opacity":0},
    "encoding":{
     "x":{"field":"t","type":"quantitative","axis":{"orient":"top","offset":-1113,"values":[0,100,200,300,400,500],"labels":false,"title":null}},
     "y":{"field":"v","type":"quantitative","axis":{"orient":"right","offset":-4,"values":[-4,-2,0,2,4],"labels":false,"title":null}}
    }},
   {"mark":{"type":"rule","color":"black","strokeWidth":1.5},
    "encoding":{"x":{"datum":-0.6,"axis":null},"x2":{"datum":516},"y":{"datum":0,"axis":null}}},
   {"mark":{"type":"text","fontSize":32,"align":"center","baseline":"middle"},
    "encoding":{"x":{"datum":-34.1,"axis":null},"y":{"datum":4.79,"axis":null},"text":{"value":"(d)"}}},
   {"mark":{"type":"rect","fill":"white","stroke":"black","strokeWidth":1.5},
    "encoding":{"x":{"datum":341.6,"axis":null},"x2":{"datum":499.2},"y":{"datum":3.97,"axis":null},"y2":{"datum":6.93}}},
   {"mark":{"type":"text","fontSize":38,"align":"center","baseline":"alphabetic"},
    "encoding":{"x":{"datum":420.4,"axis":null},"y":{"datum":5.12,"axis":null},"text":{"value":"haute viscosité"}}}
  ]}
]
}
